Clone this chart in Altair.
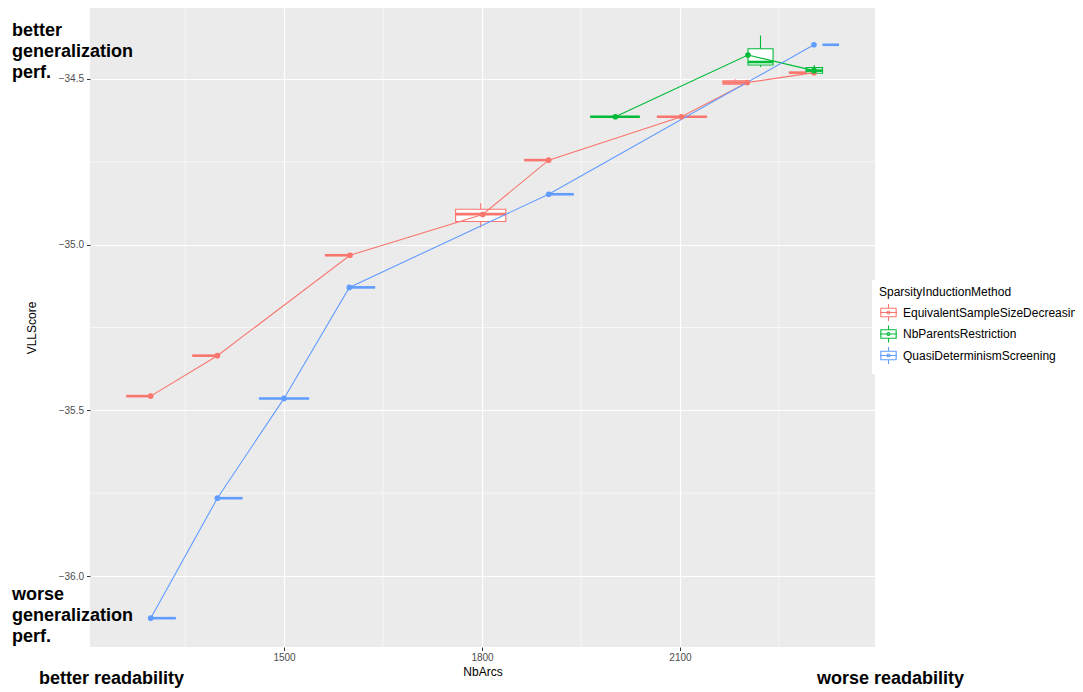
import altair as alt
import pandas as pd

METHODS = ["EquivalentSampleSizeDecreasing", "NbParentsRestriction", "QuasiDeterminismScreening"]
COLORS = ["#F8766D", "#00BA38", "#619CFF"]

# EquivalentSampleSizeDecreasing
ESS_X = [1298, 1399, 1600, 1801, 1901, 2102, 2202, 2303]
ESS_Y = [-35.457, -35.335, -35.032, -34.909, -34.745, -34.614, -34.511, -34.481]
ESS_LO = [1261, 1361, 1562, 1760, 1864, 2065, 2165, 2265]
ESS_HI = [1298, 1399, 1600, 1836, 1901, 2141, 2202, 2291]
ESS_MED = [-35.457, -35.335, -35.032, -34.908, -34.745, -34.614, -34.511, -34.481]
ESS_Q1 = [-35.457, -35.335, -35.032, -34.930, -34.745, -34.614, -34.516, -34.481]
ESS_Q3 = [-35.457, -35.335, -35.032, -34.893, -34.745, -34.614, -34.506, -34.481]
ESS_LOW = [-35.457, -35.335, -35.032, -34.948, -34.745, -34.614, -34.516, -34.481]
ESS_HIGH = [-35.457, -35.335, -35.032, -34.875, -34.745, -34.614, -34.501, -34.481]

# NbParentsRestriction
NPR_X = [2002, 2203, 2303]
NPR_Y = [-34.614, -34.428, -34.475]
NPR_LO = [1964, 2203, 2291]
NPR_HI = [2039, 2241, 2316]
NPR_MED = [-34.614, -34.449, -34.475]
NPR_Q1 = [-34.614, -34.458, -34.483]
NPR_Q3 = [-34.614, -34.409, -34.466]
NPR_LOW = [-34.614, -34.464, -34.488]
NPR_HIGH = [-34.614, -34.369, -34.458]

# QuasiDeterminismScreening
QDS_X = [1298, 1399, 1500, 1599, 1901, 2303]
QDS_Y = [-36.127, -35.765, -35.464, -35.129, -34.848, -34.397]
QDS_LO = [1298, 1399, 1462, 1599, 1901, 2316]
QDS_HI = [1336, 1437, 1538, 1638, 1939, 2341]
QDS_MED = [-36.127, -35.765, -35.464, -35.129, -34.848, -34.397]
QDS_Q1 = [-36.127, -35.765, -35.464, -35.129, -34.848, -34.397]
QDS_Q3 = [-36.127, -35.765, -35.464, -35.129, -34.848, -34.397]
QDS_LOW = [-36.127, -35.765, -35.464, -35.129, -34.848, -34.397]
QDS_HIGH = [-36.127, -35.765, -35.464, -35.129, -34.848, -34.397]

X_TICKS = [1500, 1800, 2100]
X_MINOR = [1350, 1650, 1950, 2250]
Y_TICKS = [-36.0, -35.5, -35.0, -34.5]
Y_MINOR = [-35.75, -35.25, -34.75]

TXT_TOP = ["better", "generalization", "perf."]
TXT_BOTTOM = ["worse", "generalization", "perf."]
TXT_LEFT = "better readability"
TXT_RIGHT = "worse readability"

FONT = "Liberation Sans"
COLOR_OF = dict(zip(METHODS, COLORS))


def frames(name, xs, ys, lo, hi, med, q1, q3, low, high):
    pts = pd.DataFrame({"method": name, "NbArcs": xs, "VLLScore": ys})
    box = pd.DataFrame({"method": name, "lo": lo, "hi": hi, "med": med,
                        "q1": q1, "q3": q3, "low": low, "high": high})
    box["mid"] = (box["lo"] + box["hi"]) / 2
    pts["col"] = COLOR_OF[name]
    box["col"] = COLOR_OF[name]
    return pts, box


p1, b1 = frames(METHODS[0], ESS_X, ESS_Y, ESS_LO, ESS_HI, ESS_MED, ESS_Q1, ESS_Q3, ESS_LOW, ESS_HIGH)
p2, b2 = frames(METHODS[1], NPR_X, NPR_Y, NPR_LO, NPR_HI, NPR_MED, NPR_Q1, NPR_Q3, NPR_LOW, NPR_HIGH)
p3, b3 = frames(METHODS[2], QDS_X, QDS_Y, QDS_LO, QDS_HI, QDS_MED, QDS_Q1, QDS_Q3, QDS_LOW, QDS_HIGH)
pts = pd.concat([p1, p2, p3], ignore_index=True)
box = pd.concat([b1, b2, b3], ignore_index=True)

X_SCALE = alt.Scale(domain=[1206, 2395.5], nice=False, zero=False)
Y_SCALE = alt.Scale(domain=[-36.214, -34.286], nice=False, zero=False)
C_SCALE = alt.Scale(domain=METHODS, range=COLORS)

x_axis = alt.Axis(values=X_TICKS, format="d", title="NbArcs", grid=True,
                  gridColor="white", gridWidth=1.2, domain=False,
                  tickColor="#333333", tickSize=3.5, tickWidth=1,
                  labelColor="#4D4D4D", labelFontSize=10, labelFont=FONT, labelPadding=2,
                  titleFont=FONT, titleFontSize=12, titleFontWeight="normal",
                  titleColor="black", titlePadding=4)
y_axis = alt.Axis(values=Y_TICKS, format=".1f", title="VLLScore", grid=True,
                  gridColor="white", gridWidth=1.2, domain=False,
                  tickColor="#333333", tickSize=3.5, tickWidth=1,
                  labelColor="#4D4D4D", labelFontSize=10, labelFont=FONT, labelPadding=3,
                  titleFont=FONT, titleFontSize=12, titleFontWeight="normal",
                  titleColor="black", titlePadding=20)

LEGEND_PATH = ("M-0.9,-0.5H0.9V0.5H-0.9Z M0,-1V-0.5 M0,0.5V1 M-1,0H1 "
               "M-0.17,0A0.17,0.17 0 1,0 0.17,0A0.17,0.17 0 1,0 -0.17,0Z")

legend = alt.Legend(title="SparsityInductionMethod", orient="none", legendX=782, legendY=272,
                    fillColor="white", padding=7, symbolType=LEGEND_PATH, symbolSize=289,
                    symbolStrokeWidth=1.1, symbolFillColor="white",
                    titleFont=FONT, titleFontSize=12, titleFontWeight="normal", titleColor="black",
                    titlePadding=4, labelFont=FONT, labelFontSize=12, labelColor="black",
                    labelOffset=5, labelLimit=400, rowPadding=-1.5)

X_Q = lambda f: alt.X(f, scale=X_SCALE, axis=x_axis)
Y_Q = lambda f: alt.Y(f, scale=Y_SCALE, axis=y_axis)

minor_x = alt.Chart(pd.DataFrame({"v": X_MINOR})).mark_rule(color="white", strokeWidth=0.6).encode(
    x=X_Q("v:Q"))
minor_y = alt.Chart(pd.DataFrame({"v": Y_MINOR})).mark_rule(color="white", strokeWidth=0.6).encode(
    y=Y_Q("v:Q"))

whiskers = alt.Chart(box).mark_rule(strokeWidth=1.1).encode(
    x=X_Q("mid:Q"), y=Y_Q("low:Q"), y2="high:Q",
    stroke=alt.Stroke("col:N", scale=None))

boxes = alt.Chart(box).mark_rect(fill="white", strokeWidth=1.1).encode(
    x=X_Q("lo:Q"), x2="hi:Q", y=Y_Q("q1:Q"), y2="q3:Q",
    stroke=alt.Stroke("col:N", scale=None))

medians = alt.Chart(box).mark_rule(strokeWidth=2.6).encode(
    x=X_Q("lo:Q"), x2="hi:Q", y=Y_Q("med:Q"),
    stroke=alt.Stroke("col:N", scale=None))

lines = alt.Chart(pts).mark_line(strokeWidth=1.1).encode(
    x=X_Q("NbArcs:Q"), y=Y_Q("VLLScore:Q"),
    color=alt.Color("method:N", scale=C_SCALE, legend=legend),
    order="NbArcs:Q")

points = alt.Chart(pts).mark_circle(size=32, opacity=1).encode(
    x=X_Q("NbArcs:Q"), y=Y_Q("VLLScore:Q"),
    fill=alt.Fill("col:N", scale=None))


def annot(txt, x, y):
    return alt.Chart(pd.DataFrame({"a": [0]})).mark_text(
        text=txt, align="left", baseline="alphabetic", font=FONT, fontSize=18,
        fontWeight="bold", color="black", lineHeight=21).encode(
        x=alt.value(x), y=alt.value(y))


chart = alt.layer(
    minor_x, minor_y, whiskers, boxes, medians, lines, points,
    annot(TXT_TOP, -78, 27.5),
    annot(TXT_BOTTOM, -78, 591.5),
    annot(TXT_LEFT, -51, 676),
    annot(TXT_RIGHT, 727, 676),
).properties(
    width=785, height=639,
    padding={"left": 82, "top": 0, "right": 200, "bottom": 45},
    autosize=alt.AutoSizeParams(type="none"),
).configure_view(fill="#EBEBEB", strokeWidth=0)

chart.save("out.html", embed_options={"renderer": "svg", "actions": False})
